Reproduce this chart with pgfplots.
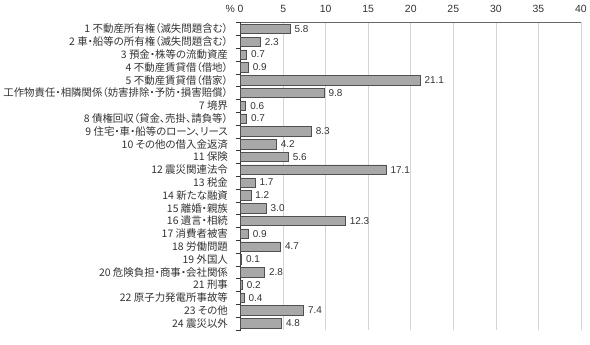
\documentclass[border=0pt]{standalone}
\usepackage{pgfplots}
\pgfplotsset{compat=1.18}
\usepackage{fontspec}
\setmainfont{Liberation Sans}
\newfontfamily\cjk[RawFeature=+palt]{Noto Sans CJK JP}
\definecolor{barfill}{HTML}{A8A8A8}
\definecolor{baredge}{HTML}{505050}
\definecolor{gridc}{HTML}{D4D4D4}
\definecolor{txt}{HTML}{333333}
\begin{document}
\begin{tikzpicture}
\begin{axis}[
  scale only axis,
  width=342pt, height=310pt,
  xbar, bar width=9.5pt,
  xmin=0, xmax=40,
  ymin=0.45, ymax=24.55,
  y dir=reverse,
  axis x line*=top, axis y line*=left,
  x axis line style={-, color=black!60},
  y axis line style={-, color=black!80},
  xtick={0,5,...,40},
  xticklabels={{\llap{\%\ }0},5,10,15,20,25,30,35,40},
  xticklabel pos=top,
  xmajorgrids, grid style={gridc, line width=0.6pt},
  x tick style={draw=none},
  ytick={1,...,24},
  y tick style={draw=none},
  minor ytick={0.5,1.5,...,24.5},
  minor y tick style={draw=black!80},
  minor tick length=5pt,
  tick align=outside,
  /pgf/number format/assume math mode=true,
  xticklabel style={font=\fontsize{10.5}{11}\selectfont, text=txt, yshift=2pt},
  yticklabel style={font=\cjk\fontsize{10.5}{11}\selectfont, text=txt, xshift=-5pt},
  yticklabels={
    {1 不動産所有権（滅失問題含む）},
    {2 車・船等の所有権（滅失問題含む）},
    {3 預金・株等の流動資産},
    {4 不動産賃貸借（借地）},
    {5 不動産賃貸借（借家）},
    {工作物責任・相隣関係（妨害排除・予防・損害賠償）},
    {7 境界},
    {8 債権回収（貸金、売掛、請負等）},
    {9 住宅・車・船等のローン、リース},
    {10 その他の借入金返済},
    {11 保険},
    {12 震災関連法令},
    {13 税金},
    {14 新たな融資},
    {15 離婚・親族},
    {16 遺言・相続},
    {17 消費者被害},
    {18 労働問題},
    {19 外国人},
    {20 危険負担・商事・会社関係},
    {21 刑事},
    {22 原子力発電所事故等},
    {23 その他},
    {24 震災以外}},
  nodes near coords,
  nodes near coords style={font=\fontsize{10}{11}\selectfont, text=txt, anchor=west, xshift=1pt,
    /pgf/number format/.cd, fixed, fixed zerofill, precision=1, assume math mode=true},
  clip=false,
]
\addplot[fill=barfill, draw=baredge, line width=0.5pt] coordinates {
(5.8,1) (2.3,2) (0.7,3) (0.9,4) (21.1,5) (9.8,6) (0.6,7) (0.7,8)
(8.3,9) (4.2,10) (5.6,11) (17.1,12) (1.7,13) (1.2,14) (3.0,15) (12.3,16)
(0.9,17) (4.7,18) (0.1,19) (2.8,20) (0.2,21) (0.4,22) (7.4,23) (4.8,24)};
\path ([yshift=-14pt]rel axis cs:0,0) -- ([yshift=-14pt]rel axis cs:1,0);
\path ([yshift=22pt]rel axis cs:0,1) -- ([yshift=22pt]rel axis cs:1,1);
\end{axis}
\end{tikzpicture}
\end{document}
